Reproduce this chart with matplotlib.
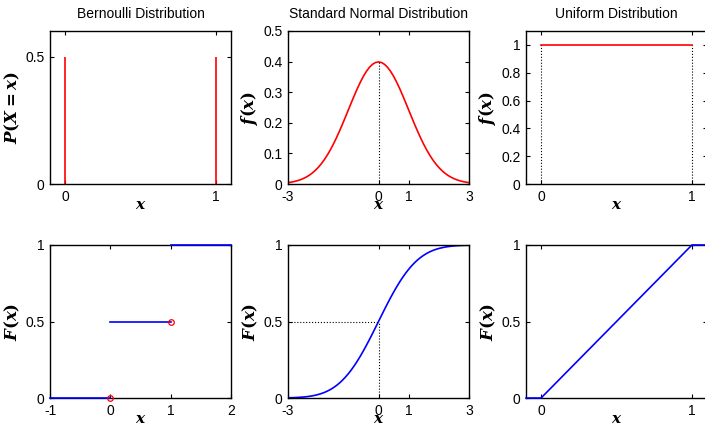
#!/usr/bin/env python3
'''
pdf / cdf of three distributions, 2x3 grid drawn MATLAB style.
'''

import numpy as np
import matplotlib
matplotlib.use("Agg")
import matplotlib.pyplot as plt

plt.rcParams['font.family'] = ['Liberation Sans', 'DejaVu Sans']
plt.rcParams['font.size'] = 10
plt.rcParams['axes.unicode_minus'] = False  # matlab draws a plain hyphen
plt.rcParams['mathtext.fontset'] = 'custom'
plt.rcParams['mathtext.it'] = 'DejaVu Serif:italic:bold'
plt.rcParams['mathtext.rm'] = 'DejaVu Serif:bold'
plt.rcParams['mathtext.bf'] = 'DejaVu Serif:italic:bold'

titles = ["Bernoulli Distribution", "Standard Normal Distribution", "Uniform Distribution"]

# bernoulli, p = 0.5
bernX = [0, 1]
bernP = [0.5, 0.5]
bernStepX = [[-1, 0], [0, 1], [1, 2]]
bernStepY = [0, 0.5, 1]
bernOpenX = [0, 1]
bernOpenY = [0, 0.5]

# standard normal, every 0.1
normX = np.linspace(-3, 3, 61)
normPdf = [0.0044, 0.0060, 0.0079, 0.0104, 0.0136, 0.0175, 0.0224, 0.0283, 0.0355, 0.0440,
           0.0540, 0.0656, 0.0790, 0.0940, 0.1109, 0.1295, 0.1497, 0.1714, 0.1942, 0.2179,
           0.2420, 0.2661, 0.2897, 0.3123, 0.3332, 0.3521, 0.3683, 0.3814, 0.3910, 0.3970,
           0.3989,
           0.3970, 0.3910, 0.3814, 0.3683, 0.3521, 0.3332, 0.3123, 0.2897, 0.2661, 0.2420,
           0.2179, 0.1942, 0.1714, 0.1497, 0.1295, 0.1109, 0.0940, 0.0790, 0.0656, 0.0540,
           0.0440, 0.0355, 0.0283, 0.0224, 0.0175, 0.0136, 0.0104, 0.0079, 0.0060, 0.0044]
normCdf = [0.0013, 0.0019, 0.0026, 0.0035, 0.0047, 0.0062, 0.0082, 0.0107, 0.0139, 0.0179,
           0.0228, 0.0287, 0.0359, 0.0446, 0.0548, 0.0668, 0.0808, 0.0968, 0.1151, 0.1357,
           0.1587, 0.1841, 0.2119, 0.2420, 0.2743, 0.3085, 0.3446, 0.3821, 0.4207, 0.4602,
           0.5000,
           0.5398, 0.5793, 0.6179, 0.6554, 0.6915, 0.7257, 0.7580, 0.7881, 0.8159, 0.8413,
           0.8643, 0.8849, 0.9032, 0.9192, 0.9332, 0.9452, 0.9554, 0.9641, 0.9713, 0.9772,
           0.9821, 0.9861, 0.9893, 0.9918, 0.9938, 0.9953, 0.9965, 0.9974, 0.9981, 0.9987]

# uniform on [0, 1]
unifX = [0, 1]
unifPdf = [1, 1]
unifCdfX = [-0.1, 0, 1, 1.1]
unifCdfY = [0, 0, 1, 1]

W, H = 705, 425
RED = '#ff0000'
BLUE = '#0000ff'


def make_axes(fig, left, top, width=181, height=153):
    # pixel box -> figure fraction
    ax = fig.add_axes([left / W, (H - top - height) / H, width / W, height / H])
    ax.tick_params(direction='in', length=3, width=0.8, top=True, right=True, pad=4,
                   labelsize=10)
    for s in ax.spines.values():
        s.set_linewidth(1.0)
    return ax


def label(ax, ylab):
    ax.set_xlabel(r'$x$', fontsize=11, labelpad=-4)
    ax.set_ylabel(ylab, fontsize=12, labelpad=2)


def main():
    fig = plt.figure(figsize=(W / 100, H / 100), dpi=100)
    cols = [50, 288, 526]
    rows = [31, 245]

    # --- Bernoulli pmf
    ax = make_axes(fig, cols[0], rows[0])
    ax.vlines(bernX, 0, bernP, color=RED, lw=1.2)
    ax.set_xlim(-0.1, 1.1)
    ax.set_ylim(0, 0.6)
    ax.set_xticks([0, 1])
    ax.set_yticks([0, 0.5])
    ax.set_yticklabels(['0', '0.5'])
    ax.set_title(titles[0], fontsize=10, pad=9)
    label(ax, r'$P(X=x)$')

    # --- normal pdf
    ax = make_axes(fig, cols[1], rows[0])
    ax.plot(normX, normPdf, color=RED, lw=1.2)
    ax.plot([0, 0], [0, max(normPdf)], 'k:', lw=0.8)
    ax.set_xlim(-3, 3)
    ax.set_ylim(0, 0.5)
    ax.set_xticks([-3, 0, 1, 3])
    ax.set_yticks([0, 0.1, 0.2, 0.3, 0.4, 0.5])
    ax.set_yticklabels(['0', '0.1', '0.2', '0.3', '0.4', '0.5'])
    ax.set_title(titles[1], fontsize=10, pad=9)
    label(ax, r'$f(x)$')

    # --- uniform pdf
    ax = make_axes(fig, cols[2], rows[0])
    ax.plot(unifX, unifPdf, color=RED, lw=1.2)
    for xv in unifX:
        ax.plot([xv, xv], [0, 1], 'k:', lw=0.8)
    ax.set_xlim(-0.1, 1.1)
    ax.set_ylim(0, 1.1)
    ax.set_xticks([0, 1])
    ax.set_yticks([0, 0.2, 0.4, 0.6, 0.8, 1])
    ax.set_yticklabels(['0', '0.2', '0.4', '0.6', '0.8', '1'])
    ax.set_title(titles[2], fontsize=10, pad=9)
    label(ax, r'$f(x)$')

    # --- Bernoulli cdf
    ax = make_axes(fig, cols[0], rows[1])
    for sx, sy in zip(bernStepX, bernStepY):
        ax.plot(sx, [sy, sy], color=BLUE, lw=1.2, clip_on=False, zorder=3)
    ax.plot(bernOpenX, bernOpenY, 'o', mfc='none', mec=RED, ms=4, mew=0.9,
            clip_on=False, zorder=4)
    ax.set_xlim(-1, 2)
    ax.set_ylim(0, 1)
    ax.set_xticks([-1, 0, 1, 2])
    ax.set_yticks([0, 0.5, 1])
    ax.set_yticklabels(['0', '0.5', '1'])
    label(ax, r'$F(x)$')

    # --- normal cdf
    ax = make_axes(fig, cols[1], rows[1])
    ax.plot(normX, normCdf, color=BLUE, lw=1.2)
    ax.plot([-3, 0], [0.5, 0.5], 'k:', lw=0.8)
    ax.plot([0, 0], [0, 0.5], 'k:', lw=0.8)
    ax.set_xlim(-3, 3)
    ax.set_ylim(0, 1)
    ax.set_xticks([-3, 0, 1, 3])
    ax.set_yticks([0, 0.5, 1])
    ax.set_yticklabels(['0', '0.5', '1'])
    label(ax, r'$F(x)$')

    # --- uniform cdf
    ax = make_axes(fig, cols[2], rows[1])
    ax.plot(unifCdfX, unifCdfY, color=BLUE, lw=1.2, clip_on=False, zorder=3)
    ax.set_xlim(-0.1, 1.1)
    ax.set_ylim(0, 1)
    ax.set_xticks([0, 1])
    ax.set_yticks([0, 0.5, 1])
    ax.set_yticklabels(['0', '0.5', '1'])
    label(ax, r'$F(x)$')

    fig.savefig("out.png", dpi=100)


if __name__ == "__main__":
    main()
